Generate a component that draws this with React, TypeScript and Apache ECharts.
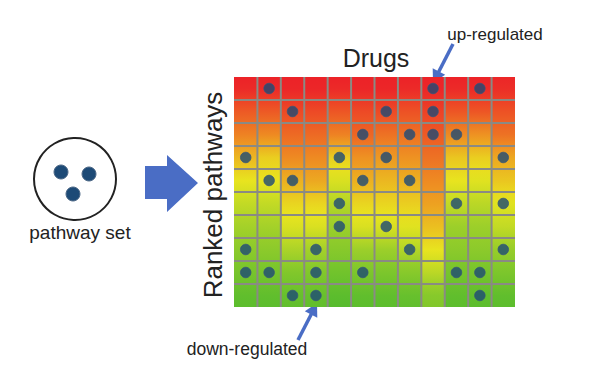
import React, { useEffect, useRef } from "react";
import * as echarts from "echarts";

const drugs = ["D1", "D2", "D3", "D4", "D5", "D6", "D7", "D8", "D9", "D10", "D11", "D12"];
const pathways = ["P1", "P2", "P3", "P4", "P5", "P6", "P7", "P8", "P9", "P10"];

// regulation score per pathway row (top = most up-regulated), per drug column
const scores: number[][] = [
  [0.98, 0.98, 0.99, 0.99, 0.98, 0.99, 0.99, 0.98, 0.99, 0.98, 0.98, 0.97],
  [0.86, 0.86, 0.9, 0.9, 0.87, 0.9, 0.9, 0.88, 0.92, 0.87, 0.87, 0.88],
  [0.76, 0.74, 0.82, 0.82, 0.76, 0.83, 0.8, 0.8, 0.86, 0.74, 0.72, 0.8],
  [0.62, 0.56, 0.74, 0.74, 0.56, 0.72, 0.7, 0.72, 0.8, 0.58, 0.56, 0.66],
  [0.5, 0.5, 0.64, 0.66, 0.46, 0.64, 0.62, 0.64, 0.74, 0.5, 0.48, 0.58],
  [0.4, 0.4, 0.54, 0.54, 0.36, 0.54, 0.54, 0.56, 0.68, 0.4, 0.38, 0.48],
  [0.32, 0.32, 0.46, 0.46, 0.3, 0.46, 0.46, 0.48, 0.6, 0.3, 0.3, 0.4],
  [0.24, 0.24, 0.34, 0.32, 0.22, 0.3, 0.3, 0.36, 0.5, 0.24, 0.24, 0.28],
  [0.16, 0.16, 0.2, 0.2, 0.14, 0.18, 0.18, 0.22, 0.38, 0.16, 0.16, 0.18],
  [0.08, 0.08, 0.1, 0.1, 0.06, 0.08, 0.08, 0.1, 0.22, 0.08, 0.08, 0.08],
];

// pathway-set members found in each ranked list: [drug column, pathway row]
const hits: number[][] = [
  [1, 0], [8, 0], [10, 0],
  [2, 1], [6, 1], [8, 1],
  [5, 2], [7, 2], [8, 2], [9, 2],
  [0, 3], [4, 3], [6, 3], [11, 3],
  [1, 4], [2, 4], [5, 4], [7, 4],
  [4, 5], [9, 5], [11, 5],
  [4, 6], [6, 6],
  [0, 7], [3, 7], [7, 7], [11, 7],
  [0, 8], [1, 8], [3, 8], [5, 8], [9, 8], [10, 8],
  [2, 9], [3, 9], [10, 9],
];

const colorStops: [number, number[]][] = [
  [0, [76, 184, 46]],
  [0.3, [156, 207, 42]],
  [0.5, [232, 228, 31]],
  [0.72, [238, 146, 34]],
  [1, [236, 34, 40]],
];

function scoreColor(v: number): string {
  const t = Math.max(0, Math.min(1, v));
  for (let i = 1; i < colorStops.length; i++) {
    const [p1, c1] = colorStops[i];
    const [p0, c0] = colorStops[i - 1];
    if (t <= p1) {
      const f = (t - p0) / (p1 - p0);
      const c = c0.map((x, k) => Math.round(x + (c1[k] - x) * f));
      return `rgb(${c[0]},${c[1]},${c[2]})`;
    }
  }
  const c = colorStops[colorStops.length - 1][1];
  return `rgb(${c[0]},${c[1]},${c[2]})`;
}

function arrow(x1: number, y1: number, x2: number, y2: number, color: string, head = 13, hw = 7, lw = 3.5) {
  const dx = x2 - x1;
  const dy = y2 - y1;
  const len = Math.sqrt(dx * dx + dy * dy);
  const ux = dx / len;
  const uy = dy / len;
  const bx = x2 - ux * head;
  const by = y2 - uy * head;
  const px = -uy;
  const py = ux;
  return [
    { type: "line", shape: { x1, y1, x2: bx + ux, y2: by + uy }, style: { stroke: color, lineWidth: lw } },
    {
      type: "polygon",
      shape: { points: [[x2, y2], [bx + px * hw, by + py * hw], [bx - px * hw, by - py * hw]] },
      style: { fill: color },
    },
  ];
}

export default function App() {
  const ref = useRef<HTMLDivElement>(null);
  useEffect(() => {
    if (!ref.current) return;
    const chart = echarts.init(ref.current, null, { renderer: "svg" });
    const cells: number[][] = [];
    scores.forEach((row, r) => row.forEach((v, c) => cells.push([c, r, v])));
    const font = "'Liberation Sans', Arial, sans-serif";
    const blue = "#4a6dc5";
    const gridGray = "#8a8a84";
    const nRows = pathways.length;
    const nCols = drugs.length;

    chart.setOption({
      animation: false,
      backgroundColor: "#ffffff",
      grid: { left: 234, top: 77, width: 281, height: 230 },
      xAxis: { type: "category", data: drugs, show: false },
      yAxis: { type: "category", data: pathways, inverse: true, show: false },
      series: [
        {
          type: "custom",
          data: cells,
          encode: { x: 0, y: 1 },
          renderItem: (params: any, api: any) => {
            const c = api.value(0);
            const r = api.value(1);
            const v = api.value(2);
            const center = api.coord([c, r]);
            const size = api.size([1, 1]);
            const x0 = center[0] - size[0] / 2;
            const y0 = center[1] - size[1] / 2;
            const above = r > 0 ? (scores[r - 1][c] + v) / 2 : v + 0.02;
            const below = r < nRows - 1 ? (scores[r + 1][c] + v) / 2 : v - 0.02;
            const padW = c < nCols - 1 ? 0.5 : 0;
            const padH = r < nRows - 1 ? 0.5 : 0;
            const children: any[] = [
              {
                type: "rect",
                shape: { x: x0, y: y0, width: size[0] + padW, height: size[1] + padH },
                style: {
                  fill: new echarts.graphic.LinearGradient(0, 0, 0, 1, [
                    { offset: 0, color: scoreColor(above) },
                    { offset: 0.5, color: scoreColor(v) },
                    { offset: 1, color: scoreColor(below) },
                  ]),
                },
              },
            ];
            if (c > 0) {
              children.push({
                type: "line",
                shape: {
                  x1: x0,
                  y1: r > 0 ? y0 - 1 : y0,
                  x2: x0,
                  y2: r < nRows - 1 ? y0 + size[1] + 1 : y0 + size[1],
                },
                style: { stroke: gridGray, lineWidth: 2 },
              });
            }
            if (r > 0) {
              children.push({
                type: "line",
                shape: {
                  x1: c > 0 ? x0 - 1 : x0,
                  y1: y0,
                  x2: c < nCols - 1 ? x0 + size[0] + 1 : x0 + size[0],
                  y2: y0,
                },
                style: { stroke: gridGray, lineWidth: 2 },
              });
            }
            return { type: "group", children };
          },
          z: 1,
        },
        {
          type: "scatter",
          data: hits,
          symbolSize: 10.5,
          itemStyle: { color: "#1d4a76", borderColor: "#33557a", borderWidth: 1 },
          z: 5,
        },
      ],
      graphic: [
        { type: "circle", shape: { cx: 75, cy: 179, r: 41 }, style: { fill: "#fff", stroke: "#222", lineWidth: 2 } },
        { type: "circle", shape: { cx: 61, cy: 172, r: 7 }, style: { fill: "#1d4a76", stroke: "#4f6a88", lineWidth: 1 } },
        { type: "circle", shape: { cx: 89, cy: 174, r: 7 }, style: { fill: "#1d4a76", stroke: "#4f6a88", lineWidth: 1 } },
        { type: "circle", shape: { cx: 73, cy: 194, r: 7 }, style: { fill: "#1d4a76", stroke: "#4f6a88", lineWidth: 1 } },
        {
          type: "text",
          x: 80,
          y: 232,
          style: { text: "pathway set", font: `19px ${font}`, fill: "#222", textAlign: "center", textVerticalAlign: "middle" },
        },
        {
          type: "polygon",
          shape: { points: [[145, 166], [167, 166], [167, 155], [198, 183], [167, 212], [167, 199], [145, 199]] },
          style: { fill: blue },
        },
        {
          type: "text",
          x: 213,
          y: 195,
          rotation: Math.PI / 2,
          style: { text: "Ranked pathways", font: `26px ${font}`, fill: "#222", textAlign: "center", textVerticalAlign: "middle" },
        },
        {
          type: "text",
          x: 376,
          y: 58,
          style: { text: "Drugs", font: `25px ${font}`, fill: "#222", textAlign: "center", textVerticalAlign: "middle" },
        },
        {
          type: "text",
          x: 495,
          y: 34,
          style: { text: "up-regulated", font: `17px ${font}`, fill: "#222", textAlign: "center", textVerticalAlign: "middle" },
        },
        {
          type: "text",
          x: 247,
          y: 349,
          style: { text: "down-regulated", font: `17.5px ${font}`, fill: "#222", textAlign: "center", textVerticalAlign: "middle" },
        },
        ...arrow(453, 44, 433, 83, blue),
        ...arrow(298, 340, 317, 303, blue),
      ],
    });
    return () => chart.dispose();
  }, []);
  return <div ref={ref} style={{ position: "absolute", left: 0, top: 0, width: 590, height: 373 }} />;
}
